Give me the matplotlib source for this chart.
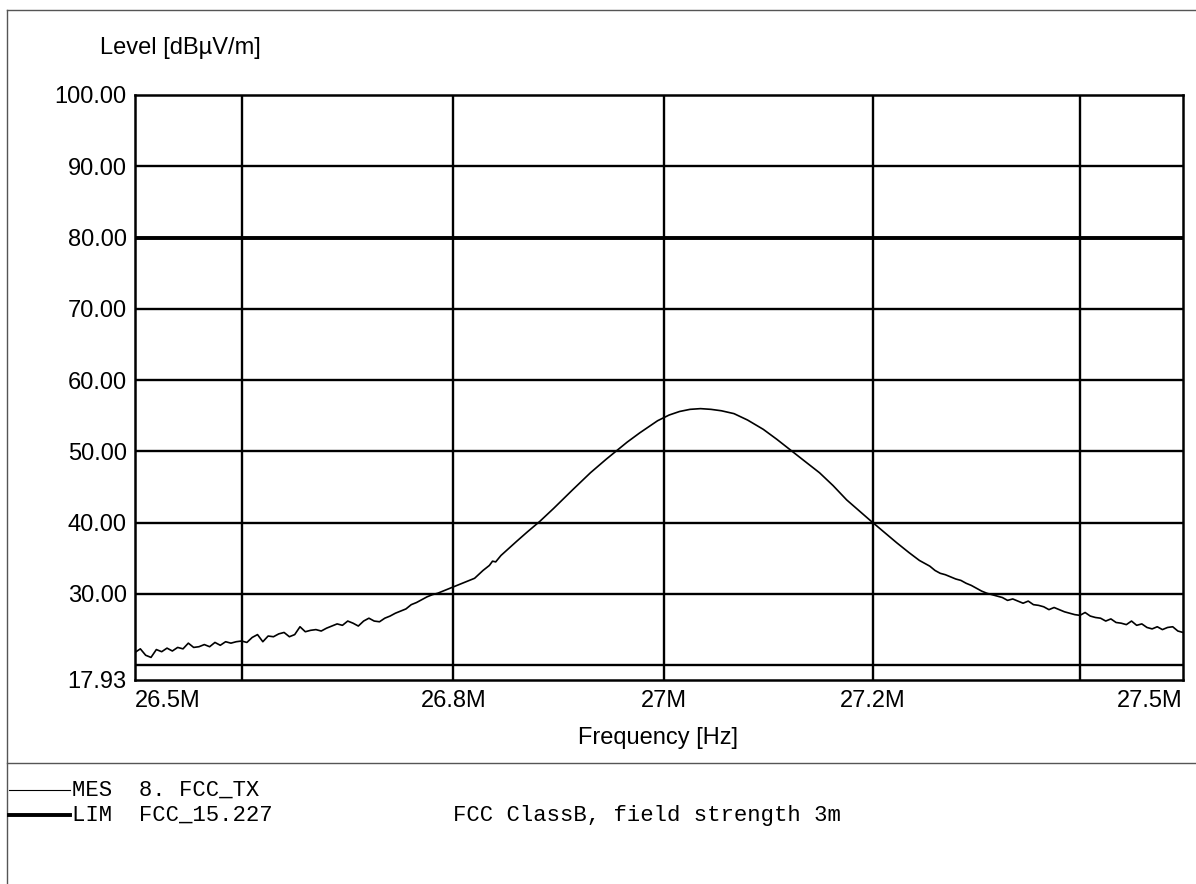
#!/usr/bin/env python3
"""
Field strength scan plot: measured trace vs. FCC 15.227 limit line.
"""

import matplotlib
matplotlib.use("Agg")
import matplotlib.pyplot as plt
from matplotlib.lines import Line2D
from matplotlib.ticker import FixedLocator, FixedFormatter, NullLocator

freq_mhz = [
    26.500, 26.505, 26.510, 26.515, 26.520, 26.525, 26.530, 26.535, 26.540, 26.545,
    26.550, 26.555, 26.560, 26.565, 26.570, 26.575, 26.580, 26.585, 26.590, 26.595,
    26.600, 26.605, 26.610, 26.615, 26.620, 26.625, 26.630, 26.635, 26.640, 26.645,
    26.650, 26.655, 26.660, 26.665, 26.670, 26.675, 26.680, 26.685, 26.690, 26.695,
    26.700, 26.705, 26.710, 26.715, 26.720, 26.725, 26.730, 26.735, 26.740, 26.745,
    26.750, 26.755, 26.760, 26.765, 26.770, 26.775, 26.780, 26.785, 26.790, 26.795,
    26.800, 26.810, 26.820, 26.828, 26.834, 26.837, 26.840, 26.845, 26.851, 26.860,
    26.870, 26.882, 26.895, 26.913, 26.930, 26.945, 26.955, 26.965, 26.977, 26.985,
    26.994, 27.005, 27.015, 27.025, 27.035, 27.045, 27.055, 27.067, 27.080, 27.095,
    27.108, 27.121, 27.135, 27.149, 27.162, 27.175, 27.186, 27.197, 27.210, 27.223,
    27.235, 27.245,
    27.250, 27.255, 27.260, 27.265, 27.270, 27.275, 27.280, 27.285, 27.290, 27.295,
    27.300, 27.305, 27.310, 27.315, 27.320, 27.325, 27.330, 27.335, 27.340, 27.345,
    27.350, 27.355, 27.360, 27.365, 27.370, 27.375, 27.380, 27.385, 27.390, 27.395,
    27.400, 27.405, 27.410, 27.415, 27.420, 27.425, 27.430, 27.435, 27.440, 27.445,
    27.450, 27.455, 27.460, 27.465, 27.470, 27.475, 27.480, 27.485, 27.490, 27.495,
    27.500,
]
level_dbuv = [
    21.8, 22.3, 21.4, 21.1, 22.2, 21.9, 22.4, 22.0, 22.5, 22.3,
    23.1, 22.5, 22.6, 22.9, 22.6, 23.2, 22.8, 23.3, 23.1, 23.3,
    23.4, 23.2, 23.9, 24.3, 23.3, 24.1, 24.0, 24.4, 24.6, 24.0,
    24.3, 25.4, 24.7, 24.9, 25.0, 24.8, 25.2, 25.5, 25.8, 25.6,
    26.2, 25.9, 25.5, 26.2, 26.6, 26.2, 26.1, 26.6, 26.9, 27.3,
    27.6, 27.9, 28.5, 28.8, 29.2, 29.6, 29.9, 30.1, 30.4, 30.7,
    31.0, 31.6, 32.2, 33.3, 34.0, 34.6, 34.5, 35.4, 36.2, 37.4,
    38.7, 40.2, 42.0, 44.6, 47.0, 48.9, 50.1, 51.3, 52.6, 53.4,
    54.3, 55.1, 55.6, 55.9, 56.0, 55.9, 55.7, 55.3, 54.4, 53.1,
    51.7, 50.2, 48.6, 47.0, 45.2, 43.2, 41.8, 40.4, 38.8, 37.2,
    35.8, 34.7,
    34.3, 33.9, 33.3, 32.9, 32.7, 32.4, 32.1, 31.9, 31.5, 31.2,
    30.8, 30.4, 30.1, 29.9, 29.7, 29.5, 29.1, 29.3, 29.0, 28.7,
    29.0, 28.5, 28.4, 28.2, 27.8, 28.1, 27.8, 27.5, 27.3, 27.1,
    27.0, 27.4, 26.9, 26.7, 26.6, 26.2, 26.5, 26.0, 25.9, 25.7,
    26.2, 25.6, 25.8, 25.3, 25.1, 25.4, 25.0, 25.3, 25.4, 24.8,
    24.6,
]

# Limit line FCC 15.227 (flat 80 dBuV/m over the band)
limit_freq_mhz = [26.5, 27.5]
limit_dbuv = [80.0, 80.0]

# Axis ticks and grid
x_tick_mhz = [26.5, 26.8, 27.0, 27.2, 27.5]
x_tick_labels = ["26.5M", "26.8M", "27M", "27.2M", "27.5M"]
x_grid_mhz = [26.6, 26.8, 27.0, 27.2, 27.4]
y_tick_vals = [17.93, 30, 40, 50, 60, 70, 80, 90, 100]
y_grid_vals = [20, 30, 40, 50, 60, 70, 80, 90]

W, H = 1196, 884
LABEL_SIZE = 17


def px(x, y):
    """Pixel (from top-left) to figure fraction."""
    return x / W, 1 - y / H


def main():
    plt.rcParams['font.family'] = ['Liberation Sans', 'DejaVu Sans']
    fig = plt.figure(figsize=(W / 100, H / 100), dpi=100)

    left, top = 135, 95
    right, bottom = 1183, 680
    ax = fig.add_axes([left / W, 1 - bottom / H, (right - left) / W, (bottom - top) / H])

    # Grid lines drawn explicitly (some fall on labelled ticks)
    for f in x_grid_mhz:
        ax.axvline(f, color='black', lw=1.7, zorder=2)
    for v in y_grid_vals:
        ax.axhline(v, color='black', lw=1.7, zorder=2)

    # Trace and limit
    ax.plot(freq_mhz, level_dbuv, color='black', lw=1.2, zorder=4)
    ax.plot(limit_freq_mhz, limit_dbuv, color='black', lw=2.8, zorder=3)

    ax.set_xscale('log')
    ax.set_xlim(26.5, 27.5)
    ax.set_ylim(17.93, 100)

    ax.xaxis.set_major_locator(FixedLocator(x_tick_mhz))
    ax.xaxis.set_major_formatter(FixedFormatter(x_tick_labels))
    ax.xaxis.set_minor_locator(NullLocator())
    ax.yaxis.set_major_locator(FixedLocator(y_tick_vals))
    ax.yaxis.set_major_formatter(FixedFormatter([f"{v:.2f}" for v in y_tick_vals]))
    ax.tick_params(which='both', length=0)
    ax.tick_params(axis='x', labelsize=LABEL_SIZE, pad=7)
    ax.tick_params(axis='y', labelsize=LABEL_SIZE, pad=6)
    for sp in ax.spines.values():
        sp.set_linewidth(1.8)

    # First / last frequency labels hug the axis ends
    xlabels = ax.get_xticklabels()
    xlabels[0].set_ha('left')
    xlabels[-1].set_ha('right')

    # Axis titles placed like the instrument printout
    fig.text(*px(100, 48), "Level [dB\u00b5V/m]", fontsize=LABEL_SIZE, ha='left', va='center')
    fig.text(*px(658, 738), "Frequency [Hz]", fontsize=LABEL_SIZE, ha='center', va='center')

    # Page frame lines from the scanned report
    frame = dict(color='#555555', lw=1.0, transform=fig.transFigure)
    fig.add_artist(Line2D([7 / W, 1.0], [1 - 10 / H] * 2, **frame))
    fig.add_artist(Line2D([7 / W, 7 / W], [1 - 10 / H, 0.0], **frame))
    fig.add_artist(Line2D([7 / W, 1.0], [1 - 763 / H] * 2, **frame))

    # Legend block below the plot
    fig.add_artist(Line2D([9 / W, 70 / W], [1 - 790 / H] * 2, color='black', lw=0.8,
                          transform=fig.transFigure))
    fig.add_artist(Line2D([9 / W, 70 / W], [1 - 815 / H] * 2, color='black', lw=2.8,
                          transform=fig.transFigure))
    mono = dict(family=['Liberation Mono', 'DejaVu Sans Mono'], fontsize=16,
                ha='left', va='center')
    fig.text(*px(72, 790), "MES  8. FCC_TX", **mono)
    fig.text(*px(72, 815), "LIM  FCC_15.227", **mono)
    fig.text(*px(453, 815), "FCC ClassB, field strength 3m", **mono)

    fig.savefig("out.png", dpi=100)
    plt.close(fig)


if __name__ == "__main__":
    main()
